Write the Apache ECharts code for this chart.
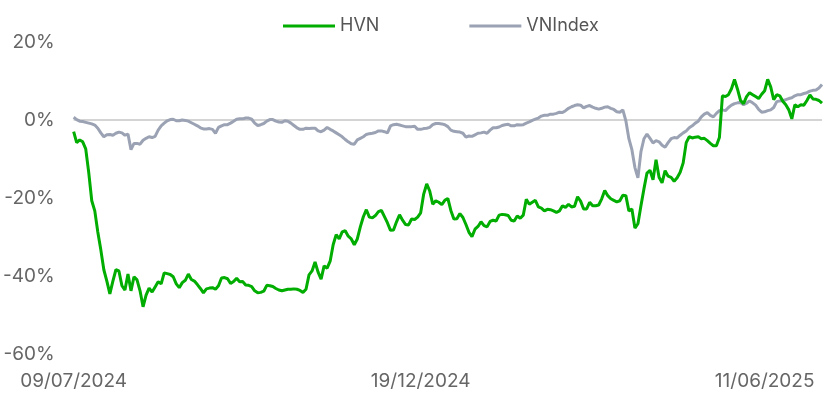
<!DOCTYPE html>
<html>
<head>
<meta charset="utf-8">
<script src="https://cdn.jsdelivr.net/npm/echarts@6/dist/echarts.min.js"></script>
<style>
  html, body { margin: 0; padding: 0; background: #fff; }
  #chart { width: 829px; height: 397px; }
</style>
</head>
<body>
<div id="chart"></div>
<script>
// first trading day and market holidays (weekdays with no session)
const startDay = '2024-07-09'
const holidays = ['2024-09-02', '2024-09-03', '2025-01-01', '2025-01-27', '2025-01-28', '2025-01-29',
  '2025-01-30', '2025-01-31', '2025-04-07', '2025-04-30', '2025-05-01', '2025-05-02']
const shownLabels = ['09/07/2024', '19/12/2024', '11/06/2025']
const yTicks = [-60, -40, -20, 0, 20]

// % change since start
const hvn = [-3.0, -5.8, -5.1, -5.6, -7.4, -13.5, -20.7, -23.3, -28.7, -33.3,
  -38.4, -41.3, -44.6, -41.3, -38.4, -38.7, -42.5, -43.6, -39.5, -43.8,
  -40.2, -41.0, -43.8, -47.9, -44.9, -43.1, -44.1, -42.8, -41.5, -42.0,
  -39.2, -39.4, -39.6, -40.2, -42.0, -43.0, -41.7, -41.1, -39.5, -40.9,
  -41.3, -42.2, -43.2, -44.3, -43.3, -43.1, -43.0, -43.4, -42.5, -40.5,
  -40.4, -40.7, -41.9, -41.4, -40.6, -41.5, -41.4, -42.3, -42.4, -42.7,
  -43.8, -44.3, -44.2, -43.9, -42.4, -42.5, -42.7, -43.2, -43.6, -43.8,
  -43.6, -43.4, -43.4, -43.3, -43.4, -43.7, -44.2, -43.4, -39.7, -38.7,
  -36.4, -39.0, -40.8, -37.4, -38.0, -36.2, -32.0, -29.4, -30.5, -28.7,
  -28.4, -29.8, -30.5, -32.0, -30.5, -27.4, -24.8, -23.0, -24.9, -25.1,
  -24.5, -23.5, -23.2, -24.8, -26.4, -28.3, -28.2, -26.1, -24.3, -25.7,
  -26.8, -26.9, -25.4, -25.5, -24.9, -23.8, -19.0, -16.4, -18.2, -21.6,
  -20.7, -21.1, -21.7, -20.6, -20.1, -23.2, -25.4, -25.3, -24.0, -25.0,
  -26.8, -28.8, -29.9, -28.0, -27.3, -26.1, -27.1, -27.4, -26.0, -25.7,
  -25.9, -24.4, -24.2, -24.3, -24.5, -25.7, -25.9, -24.6, -25.2, -24.4,
  -20.3, -21.6, -21.1, -20.6, -22.3, -22.6, -23.3, -22.9, -23.0, -23.3,
  -23.7, -23.3, -22.0, -22.4, -21.6, -22.3, -22.1, -19.7, -20.8, -22.8,
  -22.8, -21.1, -22.0, -22.0, -21.8, -20.2, -18.1, -19.4, -20.2, -20.6,
  -21.0, -20.7, -19.3, -19.4, -23.3, -22.8, -27.7, -26.6, -22.0, -17.6,
  -13.6, -12.9, -15.3, -10.2, -14.7, -16.1, -13.0, -14.4, -14.7, -15.7,
  -14.8, -13.4, -11.0, -5.8, -4.3, -4.6, -4.4, -4.3, -4.8, -4.7,
  -5.3, -6.0, -6.6, -6.6, -4.5, 6.2, 6.0, 6.5, 8.0, 10.4,
  7.9, 5.0, 4.2, 6.0, 7.0, 6.5, 6.0, 5.5, 6.6, 7.5,
  10.4, 8.5, 5.2, 6.5, 6.2, 4.8, 3.9, 2.6, 0.3, 3.9,
  3.4, 3.9, 3.8, 5.0, 6.4, 5.4, 5.3, 5.0, 4.3]

const vnindex = [0.7, 0.1, -0.3, -0.4, -0.6, -0.8, -1.0, -1.3, -2.1, -3.3,
  -4.3, -3.8, -3.7, -3.9, -3.4, -3.1, -3.3, -3.9, -3.6, -7.6,
  -6.0, -6.0, -6.2, -5.2, -4.7, -4.3, -4.5, -4.2, -2.6, -1.5,
  -0.8, -0.2, 0.1, 0.2, -0.2, -0.2, 0.0, -0.1, -0.3, -0.7,
  -1.1, -1.5, -2.0, -2.3, -2.3, -2.2, -2.4, -3.4, -1.9, -1.5,
  -1.2, -1.2, -0.8, -0.3, 0.2, 0.3, 0.3, 0.5, 0.5, 0.2,
  -0.8, -1.4, -1.2, -0.9, -0.3, 0.1, 0.1, -0.3, -0.5, -0.6,
  -0.2, -0.3, -0.8, -1.4, -2.0, -2.4, -2.4, -2.1, -2.2, -2.1,
  -2.1, -2.8, -3.0, -2.6, -1.9, -2.4, -2.8, -3.3, -3.8, -4.3,
  -5.0, -5.6, -6.1, -6.2, -5.1, -4.7, -4.3, -3.7, -3.5, -3.4,
  -3.2, -2.8, -2.8, -3.0, -3.3, -1.5, -1.2, -1.1, -1.3, -1.5,
  -1.7, -1.7, -1.7, -1.6, -2.4, -2.4, -2.2, -2.1, -1.9, -1.2,
  -0.9, -0.9, -1.0, -1.2, -1.7, -2.6, -2.9, -3.0, -3.1, -3.4,
  -4.4, -4.1, -4.2, -3.8, -3.4, -3.3, -3.1, -3.4, -2.6, -2.0,
  -2.0, -1.8, -1.4, -1.2, -1.1, -1.5, -1.5, -1.2, -1.3, -1.2,
  -0.8, -0.5, -0.1, 0.2, 0.5, 1.0, 1.2, 1.2, 1.5, 1.5,
  1.7, 2.0, 1.9, 2.4, 3.0, 3.4, 3.7, 3.9, 3.8, 3.1,
  3.5, 3.7, 3.3, 3.0, 2.8, 3.0, 3.3, 3.4, 3.0, 2.7,
  2.1, 2.0, 2.6, -0.2, -4.8, -7.6, -12.2, -14.8, -8.1, -4.8,
  -3.6, -4.7, -5.9, -5.3, -5.6, -6.5, -7.0, -5.8, -4.8, -4.5,
  -4.6, -3.9, -3.3, -2.8, -2.0, -1.5, -0.8, -0.3, 0.8, 1.5,
  1.9, 1.2, 0.8, 1.7, 2.4, 2.6, 2.4, 3.2, 3.8, 4.2,
  4.4, 4.5, 3.9, 4.3, 4.9, 4.4, 3.8, 2.7, 2.0, 2.1,
  2.4, 2.6, 3.2, 4.7, 4.9, 5.0, 5.2, 5.5, 5.7, 6.2,
  6.5, 6.5, 6.8, 7.0, 7.4, 7.6, 7.7, 8.2, 9.1]

// trading-day categories, dd/mm/yyyy
function tradingDays(start, count) {
  let out = []
  let d = new Date(start + 'T00:00:00Z')
  while (out.length < count) {
    let iso = d.toISOString().slice(0, 10)
    let wd = d.getUTCDay()
    if (wd !== 0 && wd !== 6 && holidays.indexOf(iso) < 0) {
      out.push(iso.slice(8, 10) + '/' + iso.slice(5, 7) + '/' + iso.slice(0, 4))
    }
    d.setUTCDate(d.getUTCDate() + 1)
  }
  return out
}
const dates = tradingDays(startDay, hvn.length)

const font = 'Inter, "Noto Sans", sans-serif'
const chart = echarts.init(document.getElementById('chart'))
chart.setOption({
  animation: false,
  textStyle: { fontFamily: font },
  legend: {
    top: 12,
    left: 278,
    itemWidth: 52,
    itemHeight: 3,
    itemGap: 90,
    icon: 'rect',
    textStyle: { fontSize: 18, color: '#555', fontFamily: font },
    data: ['HVN', 'VNIndex']
  },
  grid: { left: 67, right: 7, top: 42, bottom: 43, containLabel: false },
  xAxis: {
    type: 'category',
    boundaryGap: false,
    data: dates,
    axisLine: { show: false },
    axisTick: { show: false },
    splitLine: { show: false },
    axisLabel: {
      margin: 18,
      fontSize: 19,
      color: '#666',
      fontFamily: font,
      interval: function (index, value) { return shownLabels.indexOf(value) >= 0 }
    }
  },
  yAxis: {
    type: 'value',
    min: yTicks[0],
    max: yTicks[yTicks.length - 1],
    interval: 20,
    axisLine: { show: false },
    axisTick: { show: false },
    axisLabel: {
      margin: 19,
      fontSize: 19,
      color: '#666',
      fontFamily: font,
      padding: [5, 0, 0, 0],
      formatter: '{value}%'
    },
    splitLine: {
      show: true,
      lineStyle: {
        width: 2,
        color: yTicks.map(function (t) { return t === 0 ? '#d4d4d4' : 'rgba(0,0,0,0)' })
      }
    }
  },
  series: [{
    name: 'HVN',
    type: 'line',
    data: hvn,
    showSymbol: false,
    symbol: 'none',
    itemStyle: { color: '#00ad00' },
    lineStyle: { color: '#00ad00', width: 3 },
    z: 3
  }, {
    name: 'VNIndex',
    type: 'line',
    data: vnindex,
    showSymbol: false,
    symbol: 'none',
    itemStyle: { color: '#9aa2b3' },
    lineStyle: { color: '#9aa2b3', width: 3 },
    z: 2
  }]
})
</script>
</body>
</html>
